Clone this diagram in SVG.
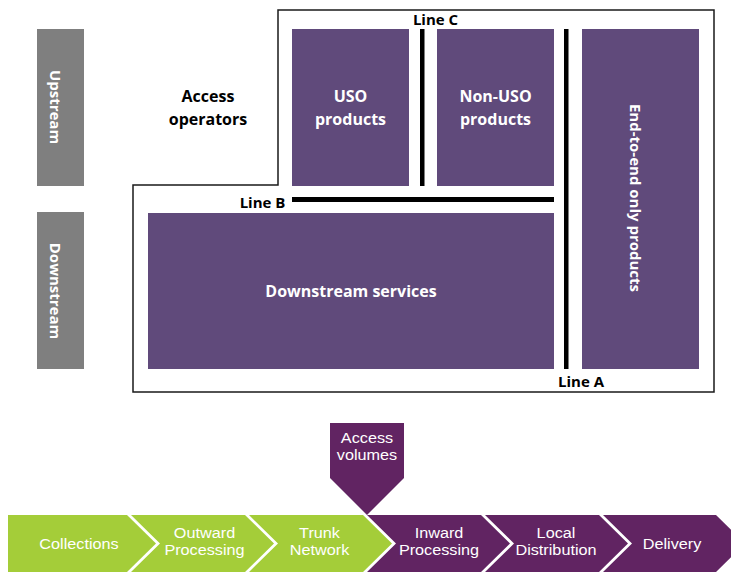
<svg xmlns="http://www.w3.org/2000/svg" width="731" height="574" viewBox="0 0 731 574">
<style>
.box{fill:#604a7b}
.side{fill:#7f7f7f}
.bar{fill:#000}
.t{font-family:"Open Sans","Noto Sans","Liberation Sans",sans-serif;font-weight:bold;font-size:16px;text-anchor:middle}
.v{font-size:15px}
.w{fill:#fff}
.k{fill:#000}
.lbl{font-family:"Open Sans","Noto Sans","Liberation Sans",sans-serif;font-weight:bold;font-size:15px;fill:#000;text-anchor:middle}
.c{font-family:"Liberation Sans",Arial,sans-serif;font-size:14.5px;fill:#fff;text-anchor:middle}
.g{fill:#a4cd39}
.p{fill:#612462}
</style>
<rect width="731" height="574" fill="#fff"/>
<path d="M278,10 H714 V392 H133 V185 H278 Z" fill="none" stroke="#1a1a1a" stroke-width="1.5"/>
<g id="upstream">
<rect class="side" x="37" y="29" width="47" height="157"/>
<text class="t v w" transform="translate(55,107) rotate(90)" y="5">Upstream</text>
</g>
<g id="downstream">
<rect class="side" x="37" y="212" width="47" height="157"/>
<text class="t v w" transform="translate(55,291) rotate(90)" y="5">Downstream</text>
</g>
<g id="access-operators">
<text class="t k" x="208" y="102">Access</text>
<text class="t k" x="208" y="125">operators</text>
</g>
<g id="uso-products">
<rect class="box" x="292" y="29" width="117" height="157"/>
<text class="t w" x="350.5" y="102">USO</text>
<text class="t w" x="350.5" y="125">products</text>
</g>
<g id="non-uso-products">
<rect class="box" x="437" y="29" width="117" height="157"/>
<text class="t w" x="495.5" y="102">Non-USO</text>
<text class="t w" x="495.5" y="125">products</text>
</g>
<g id="end-to-end">
<rect class="box" x="582" y="29" width="117" height="340"/>
<text class="t v w" transform="translate(635,198) rotate(90)" y="5">End-to-end only products</text>
</g>
<g id="downstream-services">
<rect class="box" x="148" y="213" width="406" height="156"/>
<text class="t w" x="351" y="297">Downstream services</text>
</g>
<g id="lines">
<rect class="bar" x="420" y="29" width="4.5" height="157"/>
<rect class="bar" x="564" y="29" width="4.5" height="340"/>
<rect class="bar" x="292" y="197" width="262" height="5"/>
<text class="lbl" x="435.5" y="25">Line C</text>
<text class="lbl" x="262.5" y="208">Line B</text>
<text class="lbl" x="581" y="387">Line A</text>
</g>
<g id="collections">
<path class="g" d="M8,515 H127 L156,543.5 L127,572 H8 Z"/>
<text class="c" transform="translate(79,549) scale(1.12,1)">Collections</text>
</g>
<g id="outward-processing">
<path class="g" d="M131,515 H245 L274,543.5 L245,572 H131 L160,543.5 Z"/>
<text class="c" transform="translate(204.5,538) scale(1.12,1)">Outward</text>
<text class="c" transform="translate(204.5,555) scale(1.12,1)">Processing</text>
</g>
<g id="trunk-network">
<path class="g" d="M249,515 H363 L392,543.5 L363,572 H249 L278,543.5 Z"/>
<text class="c" transform="translate(319.5,538) scale(1.12,1)">Trunk</text>
<text class="c" transform="translate(319.5,555) scale(1.12,1)">Network</text>
</g>
<g id="inward-processing">
<path class="p" d="M367,515 H481 L510,543.5 L481,572 H367 L396,543.5 Z"/>
<text class="c" transform="translate(439,538) scale(1.12,1)">Inward</text>
<text class="c" transform="translate(439,555) scale(1.12,1)">Processing</text>
</g>
<g id="local-distribution">
<path class="p" d="M485,515 H599 L628,543.5 L599,572 H485 L514,543.5 Z"/>
<text class="c" transform="translate(556,538) scale(1.12,1)">Local</text>
<text class="c" transform="translate(556,555) scale(1.12,1)">Distribution</text>
</g>
<g id="delivery">
<path class="p" d="M603,515 H716 L745,543.5 L716,572 H603 L632,543.5 Z"/>
<text class="c" transform="translate(672,549) scale(1.12,1)">Delivery</text>
</g>
<g id="access-volumes">
<path class="p" d="M330,423 H404 V478 L367,515 L330,478 Z"/>
<text class="c" transform="translate(367,443) scale(1.12,1)">Access</text>
<text class="c" transform="translate(367,460) scale(1.12,1)">volumes</text>
</g>
</svg>
